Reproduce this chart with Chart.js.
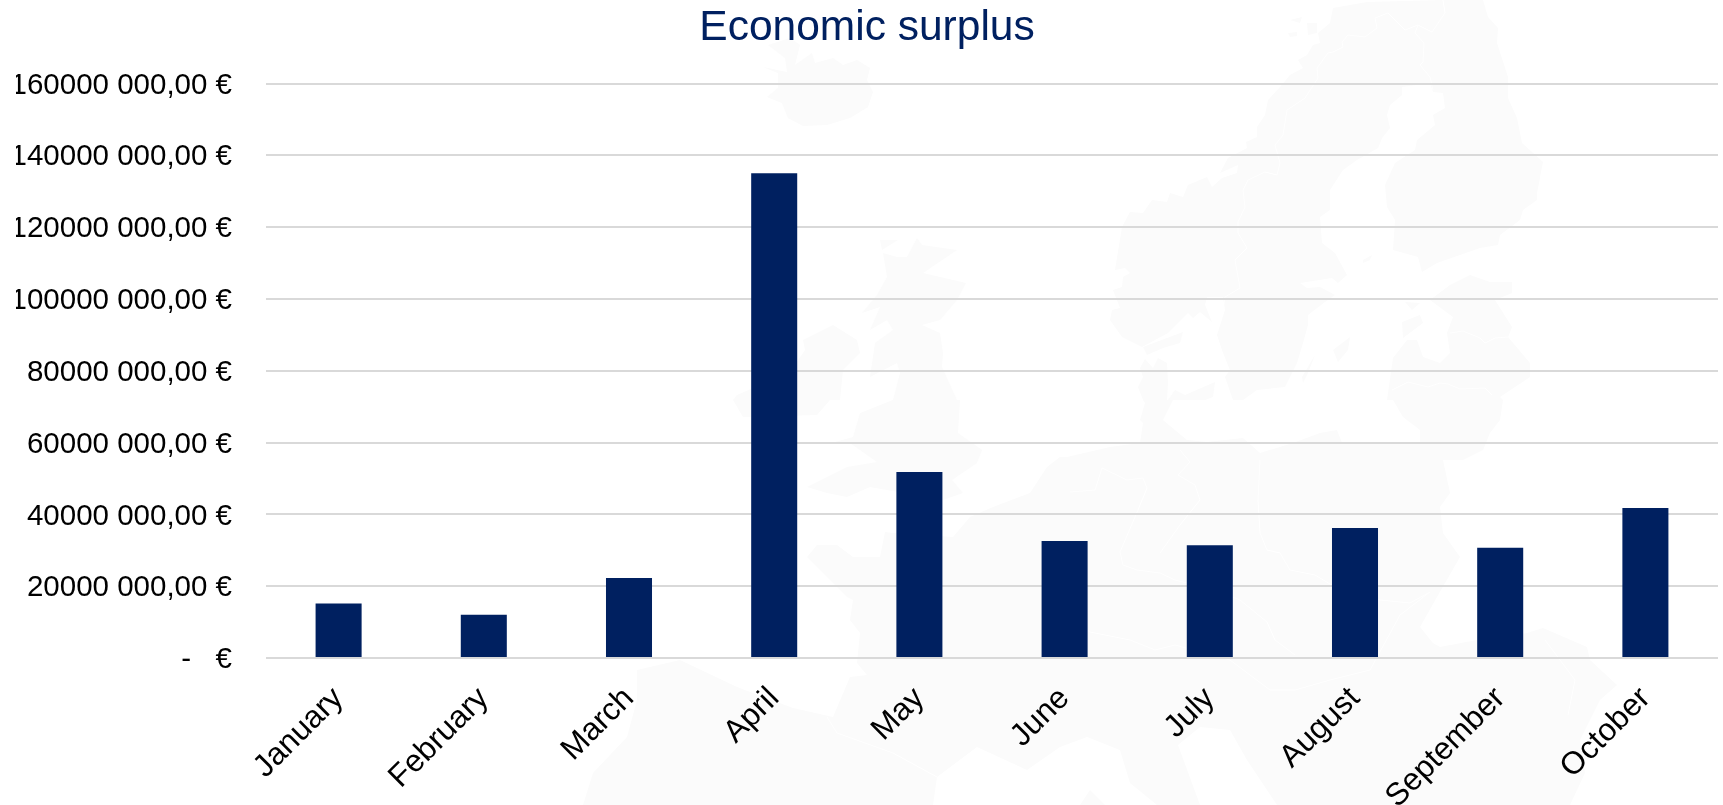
<!DOCTYPE html>
<html>
<head>
<meta charset="utf-8">
<title>Economic surplus</title>
<script src="https://cdn.jsdelivr.net/npm/chart.js@4"></script>
<style>
  html, body { margin: 0; padding: 0; background: #fff; overflow: hidden; }
  #stage { position: relative; width: 1723px; height: 805px; }
  #map, #chart { position: absolute; left: 0; top: 0; }
  #map path { fill: #fbfbfb; stroke: none; }
  #map path.border { fill: none; stroke: #fff; stroke-width: 1; }
</style>
</head>
<body>
<div id="stage">
  <!-- Pale map of Europe sitting behind the chart -->
  <svg id="map" width="1723" height="805" viewBox="0 0 1723 805" aria-hidden="true">
    <!-- Iceland -->
    <path d="M768 45 790 38 800 45 795 65 812 53 815 63 833 58 843 65 857 60 870 68 867 80 873 92 868 107 850 118 827 125 803 126 788 118 782 103 767 97 778 88 778 73 763 67 787 72 785 58Z"/>
    <!-- Great Britain and nearby isles -->
    <path d="M917 238 922 245 957 250 923 273 966 283 957 300 940 320 922 325 940 333 943 353 942 367 957 400 960 400 958 433 982 450 977 463 952 480 963 493 943 500 870 487 847 497 827 493 807 487 827 477 847 467 877 462 850 443 835 442 853 437 860 413 893 400 900 373 897 363 870 377 875 343 893 330 887 320 870 330 880 307 862 313 877 295 887 277 883 253 897 257 907 257Z"/>
    <path d="M880 240 898 240 882 250Z"/>
    <!-- Ireland -->
    <path d="M803 340 833 325 857 340 860 353 843 370 840 400 830 400 817 415 743 417 733 400 737 395 790 372 805 350Z"/>
    <!-- Norway, Sweden and Finland -->
    <path d="M1110 320 1112 310 1120 308 1113 290 1122 287 1123 277 1130 273 1125 268 1115 270 1122 227 1130 212 1143 213 1152 200 1167 202 1170 193 1183 197 1188 185 1207 177 1212 187 1222 178 1237 173 1238 165 1220 173 1228 158 1247 148 1246 142 1257 137 1257 127 1265 115 1268 100 1280 87 1290 75 1303 68 1298 60 1307 55 1313 45 1320 43 1318 33 1330 23 1333 8 1367 2 1443 0 1483 0 1488 17 1498 28 1497 43 1508 77 1508 98 1517 118 1522 143 1543 162 1537 193 1537 200 1523 210 1520 220 1500 235 1498 245 1480 248 1437 263 1422 272 1418 257 1393 250 1395 220 1387 207 1385 185 1395 163 1415 150 1417 140 1435 125 1433 115 1445 108 1443 93 1433 92 1430 83 1402 87 1402 95 1390 105 1387 115 1390 128 1382 138 1378 148 1357 160 1343 170 1330 190 1330 210 1320 217 1322 243 1335 253 1347 275 1338 283 1332 278 1300 283 1307 288 1320 287 1335 295 1325 302 1308 315 1308 325 1303 343 1297 363 1285 387 1257 390 1243 400 1233 400 1225 377 1230 370 1223 353 1217 335 1225 310 1223 297 1207 297 1205 305 1212 322 1200 312 1193 318 1188 313 1168 333 1142 347 1122 337Z"/>
    <!-- Baltic and Danish islands, Lofoten -->
    <path d="M1333 350 1350 337 1348 350 1338 362Z"/>
    <path d="M1302 377 1315 355 1308 373 1303 383Z"/>
    <path d="M1363 260 1372 255 1370 260 1363 263Z"/>
    <path d="M1402 322 1420 315 1423 323 1403 338Z"/>
    <path d="M1405 302 1420 303 1412 310Z"/>
    <path d="M1143 347 1183 332 1180 343 1163 348 1147 355Z"/>
    <path d="M1168 400 1175 390 1185 395 1215 382 1213 397 1205 400Z"/>
    <path d="M1290 20 1302 17 1300 23Z"/>
    <path d="M1307 23 1317 23 1317 33 1308 35Z"/>
    <path d="M1288 33 1297 32 1297 36 1290 37Z"/>
    <!-- Continental Europe -->
    <path d="M807 557 817 545 837 545 853 557 880 557 885 532 893 533 953 537 970 517 993 507 1030 493 1047 467 1060 457 1067 457 1110 447 1140 443 1143 423 1140 420 1145 403 1143 400 1138 387 1143 377 1140 368 1145 359 1153 368 1158 358 1167 363 1168 383 1167 400 1173 400 1163 420 1187 440 1207 442 1243 438 1260 453 1293 443 1320 433 1337 430 1342 443 1420 443 1420 430 1403 417 1393 400 1387 400 1393 358 1407 340 1417 340 1423 357 1440 363 1450 353 1447 333 1453 317 1430 300 1450 285 1470 275 1490 282 1512 282 1512 293 1495 300 1512 327 1508 337 1530 363 1530 377 1500 397 1503 400 1500 420 1490 433 1483 450 1463 460 1443 460 1450 493 1440 507 1443 533 1460 557 1437 597 1420 627 1433 643 1440 647 1477 640 1527 633 1543 628 1587 647 1590 660 1617 685 1600 700 1580 740 1585 773 1570 805 1277 805 1247 760 1230 730 1200 727 1178 745 1200 805 1157 805 1130 783 1120 750 1087 737 1060 747 1027 770 977 747 937 777 933 805 583 805 593 773 627 737 637 700 637 670 680 660 737 687 793 708 833 717 850 677 867 675 857 663 860 633 850 620 853 600 847 597Z"/>
    <path d="M1080 805 1090 790 1105 805Z"/>
    <!-- National borders -->
    <path class="border" d="M1388 13 1375 18 1377 28 1365 37 1348 35 1342 42 1343 47 1333 52 1328 53 1317 68 1318 78 1305 98 1287 110 1283 135 1275 145 1280 163 1277 175 1265 172 1248 180 1243 190 1245 207 1238 222 1238 233 1247 248 1235 260 1240 288 1225 297 1223 310"/>
    <path class="border" d="M1388 13 1405 30 1418 25 1432 32 1445 13 1443 0M1418 25 1415 33 1424 43 1423 62 1420 65 1430 77 1433 90"/>
    <path class="border" d="M1450 333 1463 331 1480 338 1485 343 1495 338 1508 337M1392 390 1408 382 1428 387 1440 383 1448 384 1460 389 1485 388 1492 395"/>
    <path class="border" d="M1260 460 1258 500 1260 533 1267 550 1280 553 1290 570 1315 575 1340 590 1380 600 1410 603 1430 592M1070 492 1095 490 1102 468 1127 480 1143 478 1147 488 1138 510 1120 552 1123 565 1137 570 1160 573 1175 580 1215 590 1240 600 1267 622 1275 640 1295 655"/>
    <path class="border" d="M1180 450 1190 462 1178 475 1195 485 1200 500 1180 525 1160 553M1060 610 1090 632 1130 640 1155 650 1175 645 1230 660 1270 690 1295 690 1330 680 1370 670 1400 615 1430 592"/>
    <path class="border" d="M827 717 837 733 893 753 937 777M1545 640 1560 660 1575 680 1568 715"/>
  </svg>
  <canvas id="chart" width="1723" height="805"></canvas>
</div>
<script>
// Monthly economic surplus in euros
const months = ['January', 'February', 'March', 'April', 'May', 'June', 'July', 'August', 'September', 'October'];
const surplus = [15200000, 12050000, 22300000, 135000000, 51800000, 32600000, 31400000, 36200000, 30700000, 41800000];

const navy = '#002060';
const fontFamily = '"Liberation Sans", Arial, sans-serif';

// Accounting-style euro label: "140000 000,00 €", with a dash for zero
function euroLabel(value) {
  return value === 0 ? '-   €' : (value / 1000) + ' 000,00 €';
}

new Chart(document.getElementById('chart'), {
  type: 'bar',
  data: {
    labels: months,
    datasets: [{
      data: surplus,
      backgroundColor: navy,
      barPercentage: 0.317,
      categoryPercentage: 1
    }]
  },
  options: {
    responsive: false,
    animation: false,
    layout: { padding: { left: 16, right: 5, top: 0, bottom: 0 } },
    plugins: {
      legend: { display: false },
      tooltip: { enabled: false },
      title: {
        display: true,
        text: 'Economic surplus',
        color: navy,
        font: { family: fontFamily, size: 42.5, weight: 'normal', lineHeight: 1.2 },
        padding: { top: 3, bottom: 29.5 }
      }
    },
    scales: {
      x: {
        grid: { display: false, drawTicks: false },
        border: { display: false },
        ticks: {
          color: '#000',
          font: { family: fontFamily, size: 31.5 },
          minRotation: 45,
          maxRotation: 45,
          autoSkip: false,
          padding: 22
        },
        afterFit(scale) { scale.height = 147; }
      },
      y: {
        min: 0,
        max: 160000000,
        grid: { color: '#d9d9d9', lineWidth: 2, drawTicks: false },
        border: { display: false },
        ticks: {
          stepSize: 20000000,
          color: '#000',
          font: { family: fontFamily, size: 29.5 },
          padding: 34,
          labelOffset: 2,
          callback: euroLabel
        },
        afterFit(scale) { scale.width = 250; }
      }
    }
  }
});
</script>
</body>
</html>
